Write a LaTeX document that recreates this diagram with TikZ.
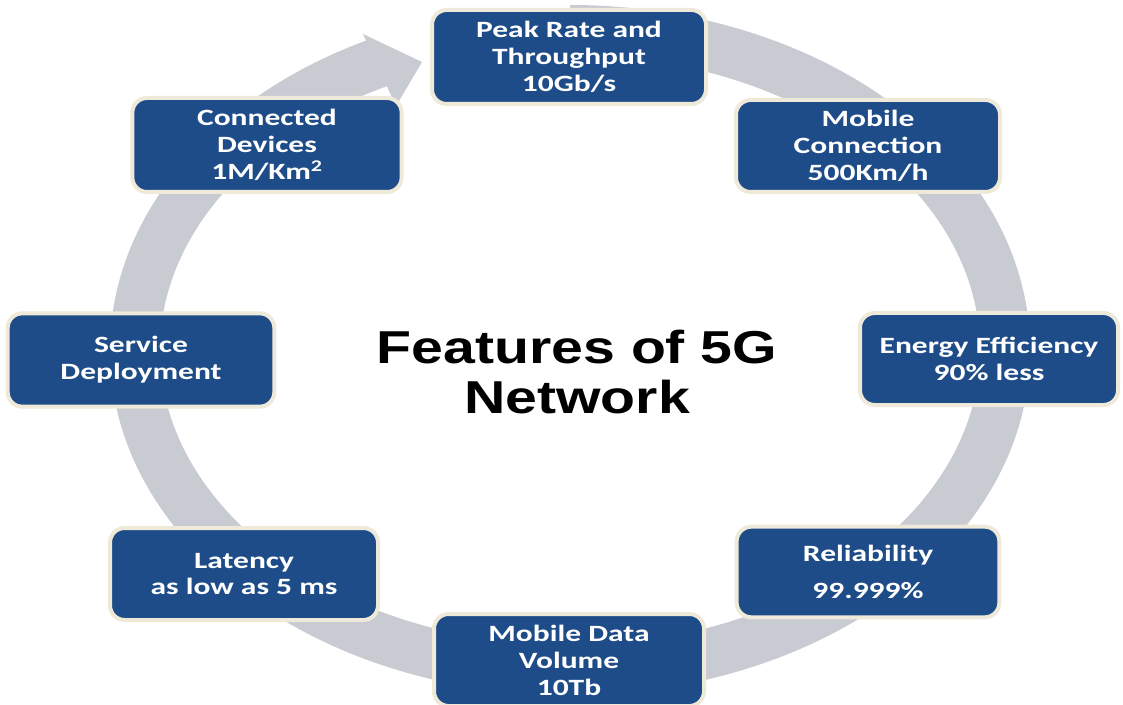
\documentclass[tikz,border=0pt]{standalone}
\usepackage{fontspec}
\newfontfamily\boxfont[FakeStretch=1.35]{Carlito}
\newfontfamily\titlefont[FakeStretch=1.24]{Liberation Sans}
\definecolor{boxblue}{RGB}{30,76,137}
\definecolor{boxedge}{RGB}{238,233,216}
\definecolor{ringgray}{RGB}{201,203,211}
\tikzset{
  feat/.style={draw=boxedge, line width=3pt, fill=boxblue, rounded corners=11pt,
    text=white, align=center, inner sep=0pt,
    font=\boxfont\bfseries\fontsize{17.5}{20.2}\selectfont},
  ring/.style={draw=ringgray, line width=37.5pt},
  ringhead/.style={fill=ringgray}
}
\begin{document}
\begin{tikzpicture}[x=0.75pt,y=0.75pt]
\useasboundingbox (0,0) rectangle (1123,704);
\fill[white] (0,0) rectangle (1123,704);
% ring
\coordinate (c) at (570,354);
\draw[ring] (c) ++(90:326.25pt and 240pt)
  arc[start angle=90, end angle=-244, x radius=326.25pt, y radius=240pt];
\coordinate (b1) at (363,670);
\coordinate (tip) at (422,642);
\coordinate (b2) at (396,598);
\fill[ringhead] (b1) -- (tip) -- (b2) -- cycle;
% boxes
\node[feat, minimum width=205.5pt, minimum height=70.5pt] (peak) at (569,647)
  {Peak Rate and\\Throughput\\10Gb/s};
\node[feat, minimum width=198pt, minimum height=69pt] (mob) at (868,558)
  {Mobile\\Connection\\500Km/h};
\node[feat, minimum width=193.5pt, minimum height=69pt] (energy) at (989,345)
  {Energy Efficiency\\90\% less};
\node[feat, minimum width=197pt, minimum height=68pt] (rel) at (868,132)
  {Reliability\\[7pt]99.999\%};
\node[feat, minimum width=202.5pt, minimum height=69pt] (data) at (569,44)
  {Mobile Data\\Volume\\10Tb};
\node[feat, minimum width=201pt, minimum height=69pt] (lat) at (244,130)
  {Latency\\as low as 5 ms};
\node[feat, minimum width=200pt, minimum height=70pt] (serv) at (141,344)
  {Service\\Deployment};
\node[feat, minimum width=202pt, minimum height=70.5pt] (conn) at (267,559)
  {Connected\\Devices\\1M/Km\textsuperscript{2}};
% title
\node[align=center, font=\titlefont\bfseries\fontsize{34.6}{36.8}\selectfont] (title) at (577,332)
  {Features of 5G\\Network};
\end{tikzpicture}
\end{document}
